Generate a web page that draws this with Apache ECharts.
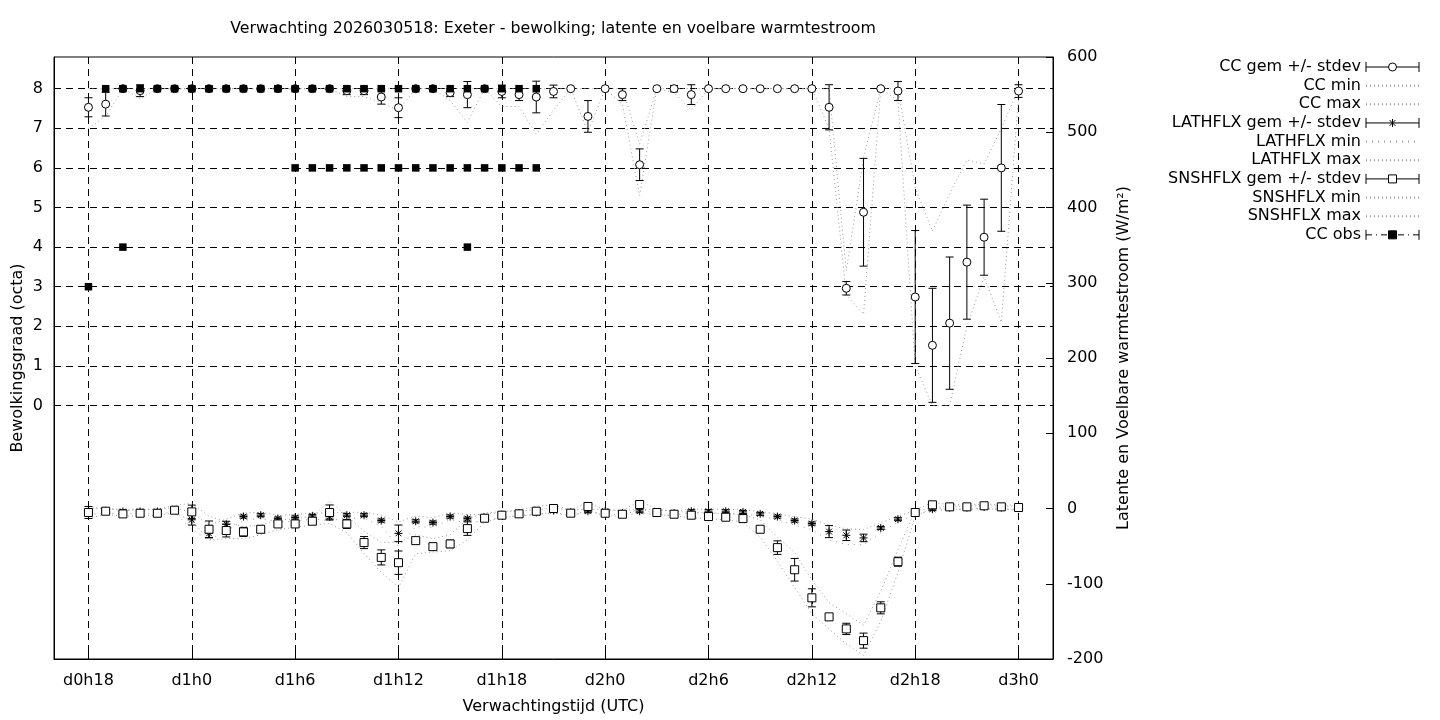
<!DOCTYPE html>
<html>
<head>
<meta charset="utf-8">
<title>Verwachting 2026030518: Exeter</title>
<script src="https://cdn.jsdelivr.net/npm/echarts@6/dist/echarts.min.js"></script>
<style>
  html, body { margin: 0; padding: 0; background: #fff; }
  #main { width: 1440px; height: 720px; }
</style>
</head>
<body>
<div id="main"></div>
<script>
// verwachtingsuren (uren na d0h0), een waarde per uur
const hours = [18, 19, 20, 21, 22, 23, 24, 25, 26, 27, 28, 29, 30, 31, 32,
  33, 34, 35, 36, 37, 38, 39, 40, 41, 42, 43, 44, 45, 46, 47,
  48, 49, 50, 51, 52, 53, 54, 55, 56, 57, 58, 59, 60,
  61, 62, 63, 64, 65, 66, 67, 68, 69, 70, 71, 72];

// bewolking (octa)
const ccMean = [7.53, 7.61, 8, 7.95, 8, 8, 8, 8, 8, 8, 8, 8, 8, 8, 8,
  7.95, 7.95, 7.79, 7.52, 8, 8, 7.9, 7.85, 8, 7.93, 7.85, 7.79, 7.93, 8, 7.3,
  8, 7.85, 6.08, 8, 8, 7.85, 8, 8, 8, 8, 8, 8, 8,
  7.53, 2.96, 4.88, 8, 7.94, 2.74, 1.52, 2.08, 3.62, 4.25, 6.0, 7.94];
const ccSd = [0.24, 0.3, 0, 0.15, 0, 0, 0, 0, 0, 0, 0, 0, 0, 0, 0,
  0.1, 0.1, 0.18, 0.25, 0, 0, 0.1, 0.33, 0, 0.16, 0.15, 0.4, 0.16, 0, 0.4,
  0, 0.15, 0.4, 0, 0.08, 0.25, 0, 0, 0, 0, 0, 0, 0,
  0.57, 0.17, 1.36, 0, 0.24, 1.68, 1.44, 1.67, 1.44, 0.96, 1.6, 0.16];
const ccMin = [7.0, 7.3, 8, 7.75, 8, 8, 8, 8, 8, 8, 8, 8, 8, 8, 8,
  7.8, 7.8, 7.65, 7.45, 8, 8, 7.7, 7.15, 8, 7.55, 7.55, 6.85, 7.45, 8, 6.9,
  8, 7.6, 5.3, 8, 7.9, 7.45, 8, 8, 8, 8, 8, 8, 8,
  7.0, 2.8, 2.3, 8, 7.7, 1.0, 0, 0, 2.0, 3.25, 2.1, 7.8];
const ccMax = [8, 8, 8, 8, 8, 8, 8, 8, 8, 8, 8, 8, 8, 8, 8,
  8, 8, 8, 8, 8, 8, 8, 8, 8, 8, 8, 8, 8, 8, 8,
  8, 8, 6.6, 8, 8, 8, 8, 8, 8, 8, 8, 8, 8,
  8, 3.4, 6.25, 8, 8, 5.5, 4.4, 5.35, 6.2, 6.1, 7.0, 8];

// latente warmtestroom (W/m2)
const lhMean = [-4, -3, -4, -4, -4, -2, -15, -33, -21, -10.7, -8.9, -13.4, -12, -9.8, -11,
  -8.9, -8.9, -16, -33, -17, -18.7, -10.7, -13.4, -12, -8, -6, -5.3, -2.7, -5, -3.6,
  -3.6, -6, -3.6, -5, -6, -3.6, -3.6, -3.6, -4.5, -7.1, -10.7, -16, -20,
  -30.7, -35.6, -39.1, -25.8, -14.2, -5.3, -0.9, 1, 1, 2, 1, 1];
const lhSd = [3, 2, 2, 2, 2, 2, 7, 6, 4, 2, 2, 2, 2, 2, 3,
  2, 2, 2, 11, 2, 2, 2, 2, 2, 2, 2, 2, 2, 2, 2,
  2, 2, 2, 2, 2, 2, 2, 2, 2, 2, 2, 2, 2,
  8, 7, 5, 2, 2, 2, 2, 1, 1, 1, 1, 1];
const lhMin = [-8, -6, -7, -7, -7, -5, -28, -42, -30, -16, -13, -18, -17, -14, -16,
  -13, -13, -24, -50, -24, -25, -15, -19, -16, -12, -9, -8, -6, -8, -6,
  -6, -9, -6, -8, -9, -6, -6, -6, -7, -10, -15, -22, -28,
  -42, -48, -48, -32, -18, -8, -3, -1, -1, 0, -1, -1];
const lhMax = [0, 0, -1, -1, -1, 1, -5, -22, -14, -6, -5, -9, -8, -6, -6,
  -5, -5, -9, -18, -10, -12, -6, -8, -8, -5, -3, -2, 1, -2, -1,
  -1, -3, -1, -2, -3, -1, -1, -1, -2, -4, -7, -11, -14,
  -22, -27, -28, -19, -10, -3, 1, 3, 3, 4, 3, 3];

// voelbare warmtestroom (W/m2)
const shMean = [-5.3, -3.6, -7.2, -6.3, -6.3, -2.3, -4.5, -27.6, -29.3, -31.1, -27.6, -20.5, -20.5, -16.9, -5.3,
  -20.5, -45.3, -65, -72, -42.7, -50.7, -47.1, -26.7, -12.9, -8.9, -7.1, -3.6, 0, -6.2, 2.7,
  -6.3, -7.6, 5.3, -5.3, -7.6, -8.9, -10.7, -11.6, -13.4, -27.6, -52, -81.4, -118.7,
  -144, -160, -175.6, -132, -70.7, -5.3, 4.9, 2.2, 2.2, 3.6, 2.2, 1.3];
const shSd = [8, 3, 2, 3, 2, 2, 9, 11, 8.5, 6, 0, 3, 2, 4, 10,
  6, 8, 10, 15.5, 0, 3, 5, 9, 2, 0, 2, 3, 3, 0, 2,
  2, 2, 3, 0, 2, 2, 2, 2, 2, 2, 9, 15, 12,
  0, 7.5, 10, 8, 6, 0, 3, 2, 2, 2, 2, 2];
const shMin = [-13, -8, -10, -10, -9, -6, -16, -42, -40, -40, -35, -28, -25, -22, -20,
  -32, -60, -85, -105, -60, -58, -56, -42, -18, -12, -10, -8, -5, -10, -2,
  -10, -10, 0, -8, -10, -12, -14, -15, -18, -38, -70, -105, -140,
  -160, -180, -195, -150, -85, -10, 0, -1, -1, 0, -1, -2];
const shMax = [2, 0, -3, -2, -1, 4, 7, -10, -18, -24, -22, -15, -14, -10, 10,
  -10, -30, -45, -45, -35, -40, -35, -14, -6, -4, -2, 3, 5, -2, 8,
  -2, -3, 10, -1, -4, -5, -6, -7, -8, -15, -38, -58, -95,
  -125, -140, -155, -110, -55, -2, 8, 5, 5, 6, 5, 4];

// waargenomen bewolking
const obsHours = [18, 19, 20, 20, 21, 22, 23, 24, 25, 26, 27, 28, 29,
  30, 30, 31, 31, 32, 32, 33, 33, 34, 34, 35, 35, 36, 36, 37, 37,
  38, 38, 39, 39, 40, 40, 40, 41, 41, 42, 42, 43, 43, 44, 44];
const obsValues = [3, 8, 8, 4, 8, 8, 8, 8, 8, 8, 8, 8, 8,
  8, 6, 8, 6, 8, 6, 8, 6, 8, 6, 8, 6, 8, 6, 8, 6,
  8, 6, 8, 6, 8, 6, 4, 8, 6, 8, 6, 8, 6, 8, 6];

// assen
const AXIS_FIRST = 16, AXIS_LAST = 74;
const xTicks = [18, 24, 30, 36, 42, 48, 54, 60, 66, 72];
const ccTicks = [0, 1, 2, 3, 4, 5, 6, 7, 8];

const FONT = 'DejaVu Sans';
const DOT = '#9a9a9a';

function hourLabel(h) {
  return 'd' + Math.floor(h / 24) + 'h' + (h % 24);
}
const axisCats = [];
for (let h = AXIS_FIRST; h <= AXIS_LAST; h++) axisCats.push(hourLabel(h));
const onTick = (idx) => xTicks.indexOf(idx + AXIS_FIRST) >= 0;

function pairs(vals) {
  return hours.map((h, i) => [hourLabel(h), vals[i]]);
}
function triples(mean, sd) {
  return hours.map((h, i) => [hourLabel(h), mean[i], sd[i]]);
}

const black = { stroke: '#000', lineWidth: 1 };
const openStyle = { fill: '#fff', stroke: '#000', lineWidth: 1 };

function marker(kind, x, y) {
  if (kind === 'circle') {
    return { type: 'circle', shape: { cx: x, cy: y, r: 4 }, style: openStyle };
  }
  if (kind === 'square') {
    return { type: 'rect', shape: { x: x - 4, y: y - 4, width: 8, height: 8 }, style: openStyle };
  }
  // asterisk
  const d = 4, e = 2.9;
  return {
    type: 'group',
    children: [
      { type: 'line', shape: { x1: x - d, y1: y, x2: x + d, y2: y }, style: black },
      { type: 'line', shape: { x1: x, y1: y - d, x2: x, y2: y + d }, style: black },
      { type: 'line', shape: { x1: x - e, y1: y - e, x2: x + e, y2: y + e }, style: black },
      { type: 'line', shape: { x1: x - e, y1: y + e, x2: x + e, y2: y - e }, style: black }
    ]
  };
}

function errorBars(kind) {
  return function (params, api) {
    const x = api.value(0), m = api.value(1), s = api.value(2);
    const c = api.coord([x, m]);
    const kids = [];
    if (s > 0) {
      const top = api.coord([x, m + s])[1];
      const bot = api.coord([x, m - s])[1];
      kids.push({ type: 'line', shape: { x1: c[0], y1: top, x2: c[0], y2: bot }, style: black });
      kids.push({ type: 'line', shape: { x1: c[0] - 4, y1: top, x2: c[0] + 4, y2: top }, style: black });
      kids.push({ type: 'line', shape: { x1: c[0] - 4, y1: bot, x2: c[0] + 4, y2: bot }, style: black });
    }
    kids.push(marker(kind, c[0], c[1]));
    return { type: 'group', children: kids };
  };
}

function dotted(name, vals, yIdx, dash) {
  return {
    name: name, type: 'line', yAxisIndex: yIdx, data: pairs(vals),
    symbol: 'none', silent: true, z: 2,
    lineStyle: { color: DOT, width: 1, type: dash || [1, 3] },
    emphasis: { disabled: true }
  };
}

function bars(name, mean, sd, yIdx, kind) {
  return {
    name: name, type: 'custom', yAxisIndex: yIdx, z: 3, silent: true,
    data: triples(mean, sd),
    encode: { x: 0, y: 1 },
    renderItem: errorBars(kind)
  };
}

// legend-iconen: foutbalk met symbool, en streep-punt lijn voor obs
const ICON_CIRCLE = 'path://M0 0L0 10M0 5L22.5 5M30.5 5L53 5M53 0L53 10M30.5 5A4 4 0 1 1 22.5 5A4 4 0 1 1 30.5 5Z';
const ICON_STAR = 'path://M0 0L0 10M0 5L53 5M53 0L53 10M26.5 1L26.5 9M23.6 2.1L29.4 7.9M23.6 7.9L29.4 2.1';
const ICON_SQUARE = 'path://M0 0L0 10M0 5L22.5 5M30.5 5L53 5M53 0L53 10M22.5 1L30.5 1L30.5 9L22.5 9Z';
const ICON_OBS = 'path://M0 0L0 10M0 5L6 5M10 5L11 5M15 5L21 5M32 5L38 5M42 5L43 5M47 5L53 5M53 0L53 10M22.5 1L30.5 1L30.5 9L22.5 9Z';
const openIcon = { color: '#fff', borderColor: '#000', borderWidth: 1, opacity: 1 };
const solidIcon = { color: '#000', borderColor: '#000', borderWidth: 1, opacity: 1 };
const lineIcon = { opacity: 0 };

const myChart = echarts.init(document.getElementById('main'));

const option = {
  animation: false,
  textStyle: { fontFamily: FONT, color: '#000' },
  title: {
    text: 'Verwachting 2026030518: Exeter - bewolking; latente en voelbare warmtestroom',
    left: 548, top: 16, textAlign: 'center',
    textStyle: { fontFamily: FONT, fontSize: 15.8, fontWeight: 'normal', color: '#000' }
  },
  legend: {
    orient: 'vertical', right: 15, top: 54, align: 'right',
    itemWidth: 53, itemHeight: 10, itemGap: 2.65,
    selectedMode: false,
    textStyle: { fontFamily: FONT, fontSize: 16, color: '#000' },
    data: [
      { name: 'CC gem +/- stdev', icon: ICON_CIRCLE, itemStyle: openIcon },
      { name: 'CC min', itemStyle: lineIcon },
      { name: 'CC max', itemStyle: lineIcon },
      { name: 'LATHFLX gem +/- stdev', icon: ICON_STAR, itemStyle: solidIcon },
      { name: 'LATHFLX min', itemStyle: lineIcon },
      { name: 'LATHFLX max', itemStyle: lineIcon },
      { name: 'SNSHFLX gem +/- stdev', icon: ICON_SQUARE, itemStyle: openIcon },
      { name: 'SNSHFLX min', itemStyle: lineIcon },
      { name: 'SNSHFLX max', itemStyle: lineIcon },
      { name: 'CC obs', icon: ICON_OBS, itemStyle: solidIcon }
    ]
  },
  grid: {
    left: 54, right: 387, top: 57, bottom: 61,
    show: true, borderColor: '#000', borderWidth: 1, backgroundColor: 'transparent'
  },
  xAxis: {
    type: 'category', data: axisCats, boundaryGap: false,
    name: 'Verwachtingstijd (UTC)', nameLocation: 'middle', nameGap: 40, nameMoveOverlap: false,
    nameTextStyle: { fontFamily: FONT, fontSize: 16, color: '#000' },
    axisLine: { show: true, onZero: false, lineStyle: { color: '#000' } },
    axisTick: { show: true, inside: true, length: 7, interval: onTick, lineStyle: { color: '#000' } },
    axisLabel: { interval: onTick, fontFamily: FONT, fontSize: 16, color: '#000', margin: 14 },
    splitLine: { show: true, interval: onTick, lineStyle: { color: '#000', width: 1, type: [7, 5] } }
  },
  yAxis: [
    {
      type: 'value', position: 'left', min: -6.4, max: 8.8,
      name: 'Bewolkingsgraad (octa)', nameLocation: 'middle', nameGap: 28, nameMoveOverlap: false,
      nameTextStyle: { fontFamily: FONT, fontSize: 16, color: '#000' },
      axisLine: { show: true, lineStyle: { color: '#000' } },
      axisTick: { show: true, inside: true, length: 7, customValues: ccTicks, lineStyle: { color: '#000' } },
      axisLabel: { customValues: ccTicks, fontFamily: FONT, fontSize: 16, color: '#000', margin: 11 },
      splitLine: { show: false }
    },
    {
      type: 'value', position: 'right', min: -200, max: 600, interval: 100,
      name: 'Latente en Voelbare warmtestroom (W/m²)', nameLocation: 'middle', nameGap: 63, nameMoveOverlap: false,
      nameTextStyle: { fontFamily: FONT, fontSize: 16, color: '#000' },
      axisLine: { show: true, lineStyle: { color: '#000' } },
      axisTick: { show: true, inside: true, length: 7, lineStyle: { color: '#000' } },
      axisLabel: { fontFamily: FONT, fontSize: 16, color: '#000', margin: 14 },
      splitLine: { show: false }
    }
  ],
  series: [
    Object.assign(dotted('CC min', ccMin, 0), {
      // horizontale rasterlijnen van de bewolkingsas
      markLine: {
        silent: true, z: 1, symbol: ['none', 'none'],
        label: { show: false },
        lineStyle: { color: '#000', width: 1, type: [7, 5] },
        emphasis: { disabled: true },
        data: ccTicks.map(v => ({ yAxis: v }))
      }
    }),
    dotted('CC max', ccMax, 0),
    dotted('LATHFLX min', lhMin, 1, [1, 5]),
    dotted('LATHFLX max', lhMax, 1),
    dotted('SNSHFLX min', shMin, 1),
    dotted('SNSHFLX max', shMax, 1),
    bars('CC gem +/- stdev', ccMean, ccSd, 0, 'circle'),
    bars('LATHFLX gem +/- stdev', lhMean, lhSd, 1, 'star'),
    bars('SNSHFLX gem +/- stdev', shMean, shSd, 1, 'square'),
    {
      name: 'CC obs', type: 'scatter', yAxisIndex: 0, z: 4, silent: true,
      symbol: 'rect', symbolSize: 7.5,
      itemStyle: { color: '#000', opacity: 1 },
      emphasis: { disabled: true },
      data: obsHours.map((h, i) => [hourLabel(h), obsValues[i]])
    }
  ]
};

myChart.setOption(option);
</script>
</body>
</html>
